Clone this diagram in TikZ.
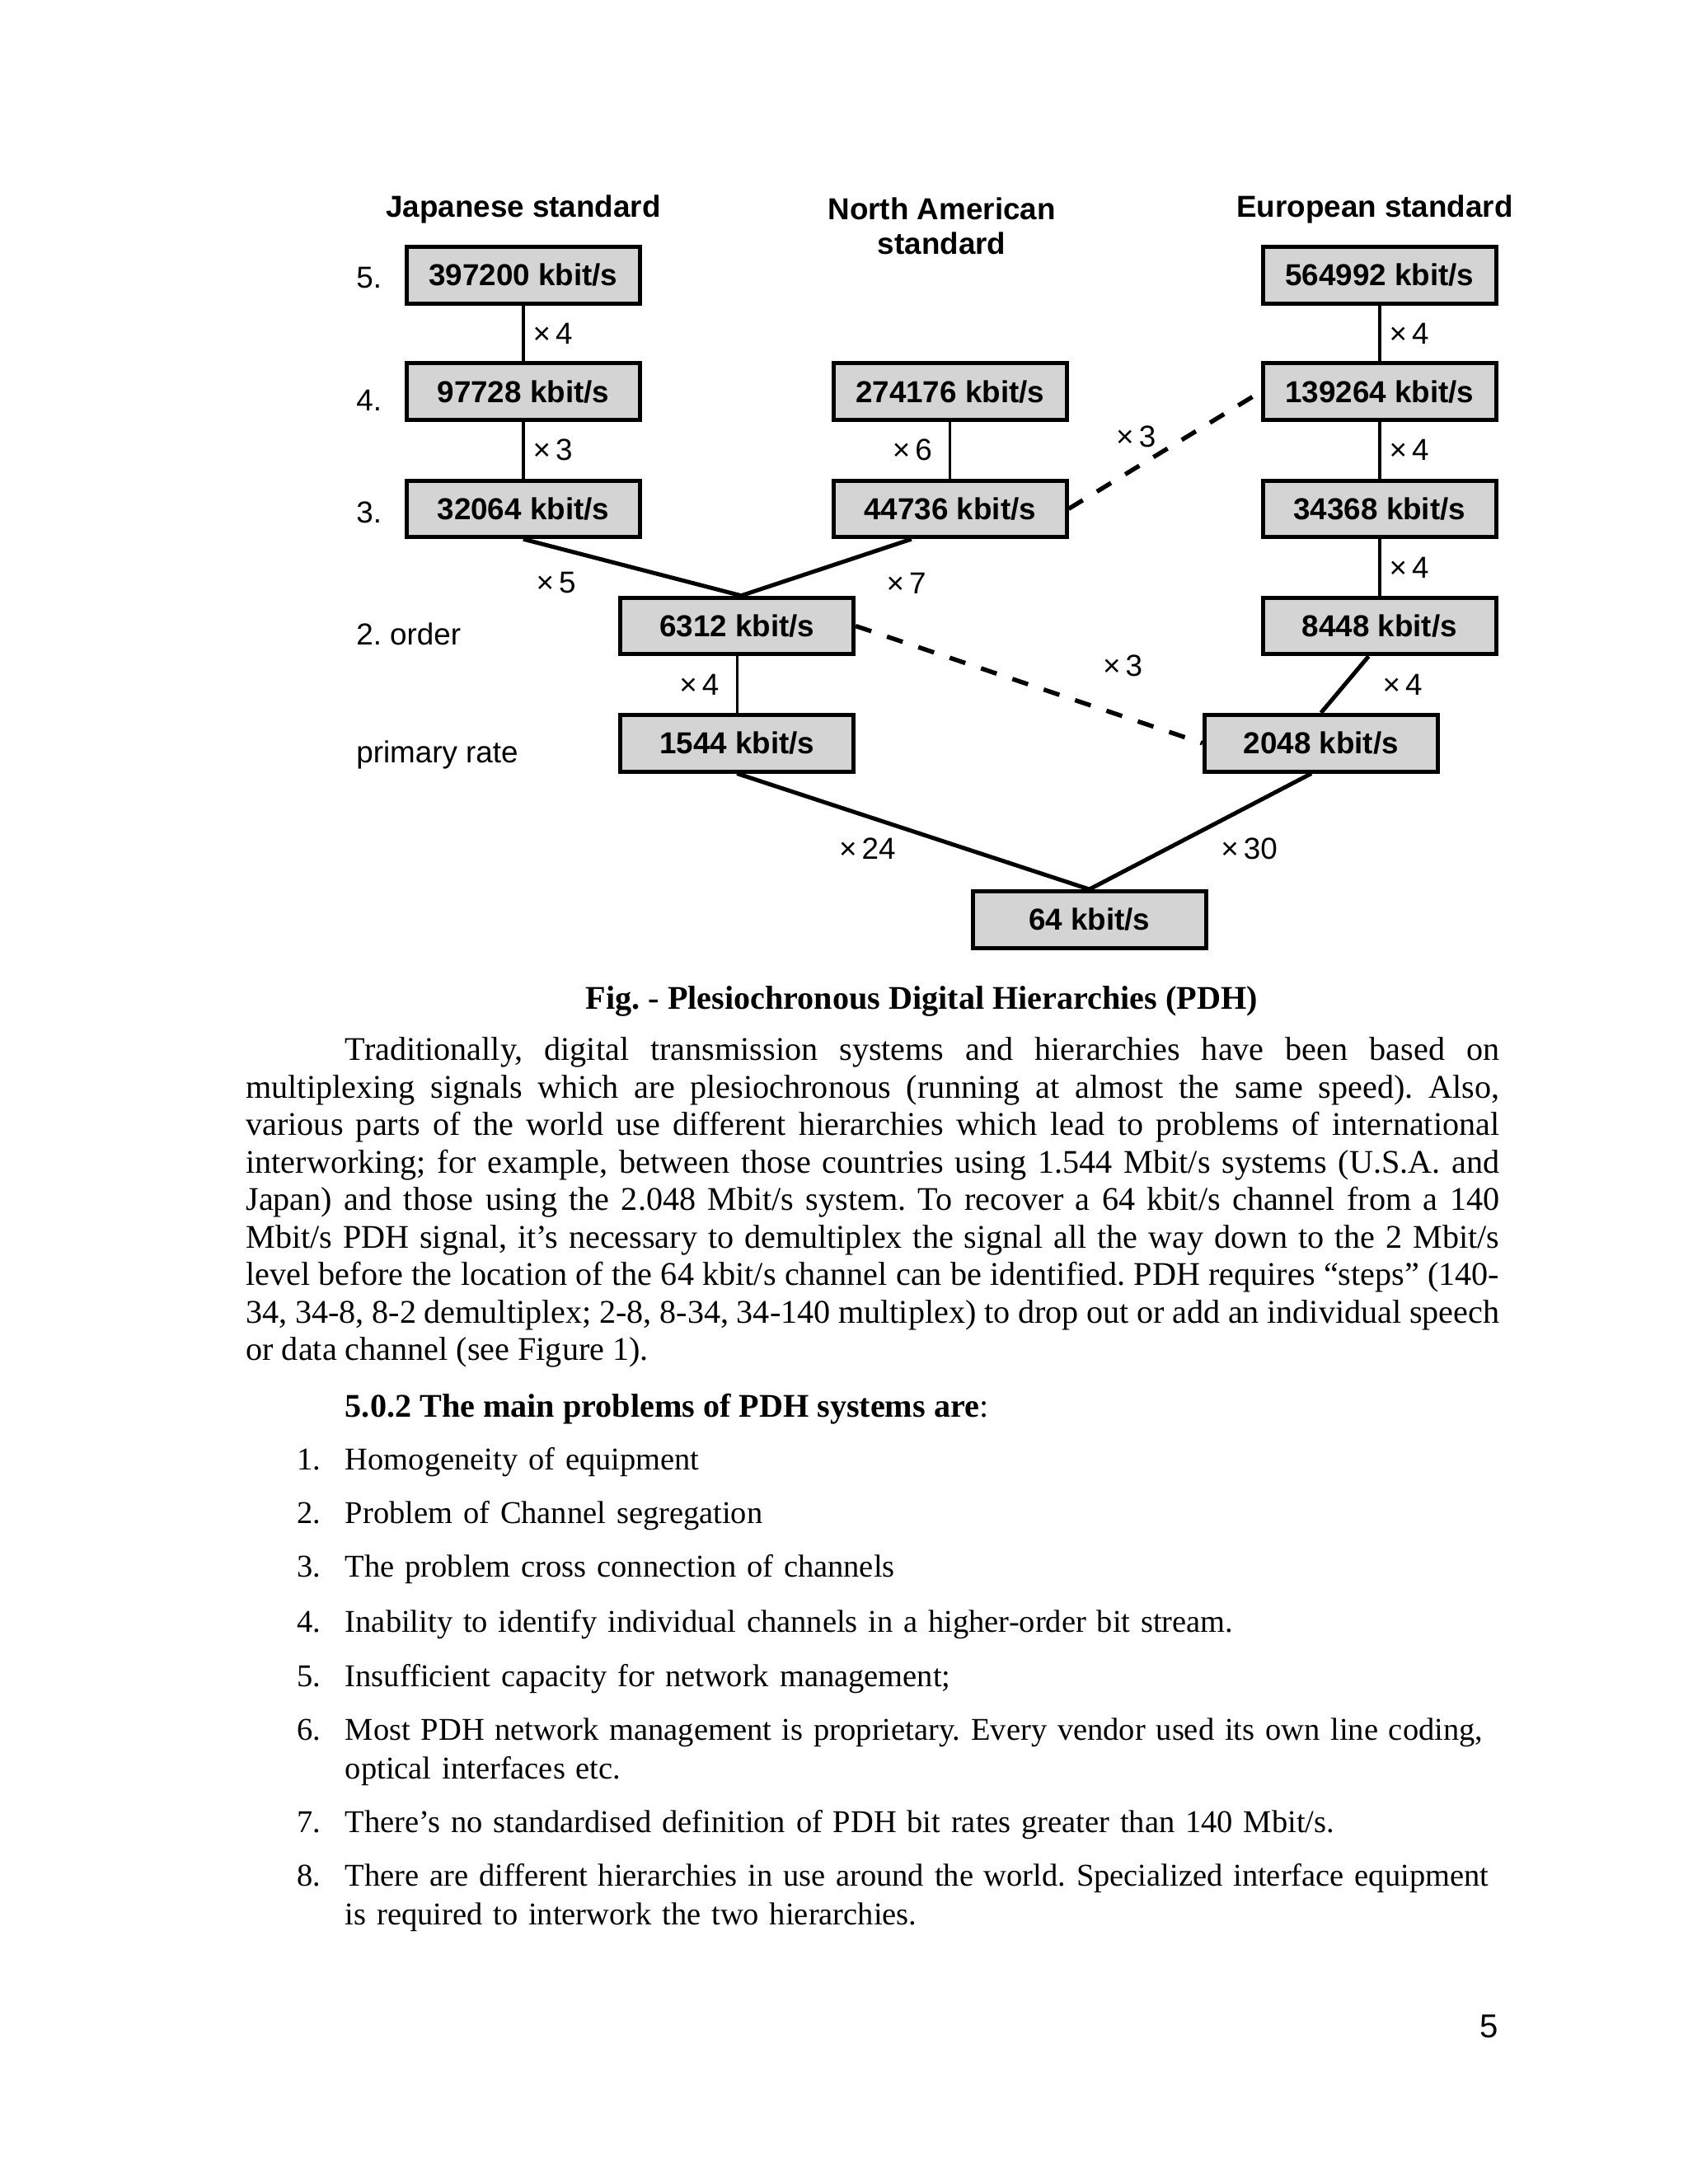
\documentclass[tikz,border=0pt]{standalone}
\usepackage{fontspec}
\setmainfont{Liberation Serif}
\newfontfamily\pdhsans{Liberation Sans}
\usetikzlibrary{calc}
\frenchspacing

\newcommand{\pdhbody}{\fontsize{12}{13.6}\selectfont}
\newcommand{\pdhlist}{\fontsize{11.5}{14}\selectfont}
\newcommand{\pdhdia}{\pdhsans\fontsize{11}{12.5}\selectfont}

\definecolor{boxgray}{gray}{0.83}

\tikzset{
    rate/.style={draw,line width=1.5pt,fill=boxgray,minimum width=84.5pt,minimum height=20.5pt,inner sep=0pt,font=\pdhdia\bfseries},
    mult/.style={inner sep=1pt,font=\pdhdia},
    levelname/.style={anchor=base west,inner sep=0pt,font=\pdhdia},
    header/.style={align=center,inner sep=0pt,font=\pdhdia\bfseries},
    vlink/.style={line width=1pt},
    slink/.style={line width=1.5pt},
    xlink/.style={line width=1.6pt,dash pattern=on 6pt off 6pt},
}

\begin{document}
\begin{tikzpicture}[x=0.5pt,y=-0.5pt]
    \pgfmathsetmacro{\colJ}{379.5}
    \pgfmathsetmacro{\colN}{689}
    \pgfmathsetmacro{\colE}{1000.5}
    \pgfmathsetmacro{\rowV}{199.5}
    \pgfmathsetmacro{\rowIV}{284}
    \pgfmathsetmacro{\rowIII}{369}
    \pgfmathsetmacro{\rowII}{454}
    \pgfmathsetmacro{\rowI}{539}

    \fill [white] (0,0) rectangle (1224,1584);
    \useasboundingbox (0,0) rectangle (1224,1584);

    \node (hJP) [header] at (\colJ,152) {Japanese standard};
    \node (hNA) [header] at (683,164) {North American\\standard};
    \node (hEU) [header] at (997,152) {European standard};

    \node (l5) [levelname] at (258,209) {5.};
    \node (l4) [levelname] at (258,298) {4.};
    \node (l3) [levelname] at (258,379) {3.};
    \node (l2) [levelname] at (258,468) {2. order};
    \node (l1) [levelname] at (258,553) {primary rate};

    \node (j5) [rate] at (\colJ,\rowV) {397200 kbit/s};
    \node (j4) [rate] at (\colJ,\rowIV) {97728 kbit/s};
    \node (j3) [rate] at (\colJ,\rowIII) {32064 kbit/s};
    \node (n4) [rate] at (\colN,\rowIV) {274176 kbit/s};
    \node (n3) [rate] at (\colN,\rowIII) {44736 kbit/s};
    \node (e5) [rate] at (\colE,\rowV) {564992 kbit/s};
    \node (e4) [rate] at (\colE,\rowIV) {139264 kbit/s};
    \node (e3) [rate] at (\colE,\rowIII) {34368 kbit/s};
    \node (e2) [rate] at (\colE,\rowII) {8448 kbit/s};
    \node (n2) [rate] at (534.5,\rowII) {6312 kbit/s};
    \node (n1) [rate] at (534.5,\rowI) {1544 kbit/s};
    \node (e1) [rate] at (958,\rowI) {2048 kbit/s};
    \node (base) [rate] at (790,667) {64 kbit/s};

    \coordinate (meet) at ($(n2.north)+(3,0)$);

    \draw [vlink] (j5) -- node [mult,right=2pt] {×\,4} (j4);
    \draw [vlink] (j4) -- node [mult,right=2pt] {×\,3} (j3);
    \draw [vlink] (n4) -- node [mult,left=5pt] {×\,6} (n3);
    \draw [vlink] (e5) -- node [mult,right=2pt] {×\,4} (e4);
    \draw [vlink] (e4) -- node [mult,right=2pt] {×\,4} (e3);
    \draw [vlink] (e3) -- node [mult,right=2pt] {×\,4} (e2);
    \draw [vlink] (n2) -- node [mult,left=5pt] {×\,4} (n1);

    \draw [slink] (j3.south) -- node [mult,pos=0.15,below=7pt] {×\,5} (meet);
    \draw [slink] ($(n3.south)+(-28,0)$) -- node [mult,pos=0.03,below=10pt] {×\,7} (meet);
    \draw [slink] ($(e2.south)+(-8,0)$) -- node [mult,midway,right=12pt] {×\,4} (e1.north);
    \draw [slink] (n1.south) -- node [mult,pos=0.37,below=6pt] {×\,24} (base.north);
    \draw [slink] ($(e1.south)+(-7,0)$) -- node [mult,pos=0.28,below=10pt] {×\,30} (base.north);

    \draw [xlink] (n3.east) -- node [mult,pos=0.35,above=5.5pt] {×\,3} (e4.west);
    \draw [xlink] (n2.east) -- node [mult,pos=0.77,above=12.5pt] {×\,3} (e1.west);

    \node (caption) [anchor=base,inner sep=0pt,font=\pdhbody\bfseries] at (668.5,732)
        {Fig. - Plesiochronous Digital Hierarchies (PDH)};

    \node (para) [anchor=base west,inner sep=0pt,text width=454.5pt,align=justify,font=\pdhbody] at (178,769)
        {\hyphenpenalty=10000 \exhyphenpenalty=10000
        \hspace*{36pt}Traditionally, digital transmission systems and hierarchies have been based on\linebreak
        multiplexing signals which are plesiochronous (running at almost the same speed). Also,\linebreak
        various parts of the world use different hierarchies which lead to problems of international\linebreak
        interworking; for example, between those countries using 1.544 Mbit/s systems (U.S.A. and\linebreak
        Japan) and those using the 2.048 Mbit/s system. To recover a 64 kbit/s channel from a 140\linebreak
        Mbit/s PDH signal, it’s necessary to demultiplex the signal all the way down to the 2 Mbit/s\linebreak
        level before the location of the 64 kbit/s channel can be identified. PDH requires “steps” (140-\linebreak
        34, 34-8, 8-2 demultiplex; 2-8, 8-34, 34-140 multiplex) to drop out or add an individual speech\linebreak
        or data channel (see Figure 1).};

    \node (probhead) [anchor=base west,inner sep=0pt,font=\pdhbody] at (250,1028)
        {\textbf{5.0.2 The main problems of PDH systems are}:};

    \foreach \num/\ypos/\txt in {
        1/1066/{Homogeneity of equipment},
        2/1105/{Problem of Channel segregation},
        3/1144/{The problem cross connection of channels},
        4/1184/{Inability to identify individual channels in a higher-order bit stream.},
        5/1223/{Insufficient capacity for network management;},
        6/1262/{Most PDH network management is proprietary. Every vendor used its own line coding,\\optical interfaces etc.},
        7/1329/{There’s no standardised definition of PDH bit rates greater than 140 Mbit/s.},
        8/1368/{There are different hierarchies in use around the world. Specialized interface equipment\\is required to interwork the two hierarchies.}}
    {
        \node (num\num) [anchor=base west,inner sep=0pt,font=\pdhlist] at (215,\ypos) {\num.};
        \node (item\num) [anchor=base west,inner sep=0pt,text width=440pt,align=left,font=\pdhlist] at (250,\ypos) {\txt};
    }

    \node (pagenum) [anchor=base,inner sep=0pt,font=\pdhsans\fontsize{12}{14}\selectfont] at (1080,1478) {5};
\end{tikzpicture}
\end{document}
